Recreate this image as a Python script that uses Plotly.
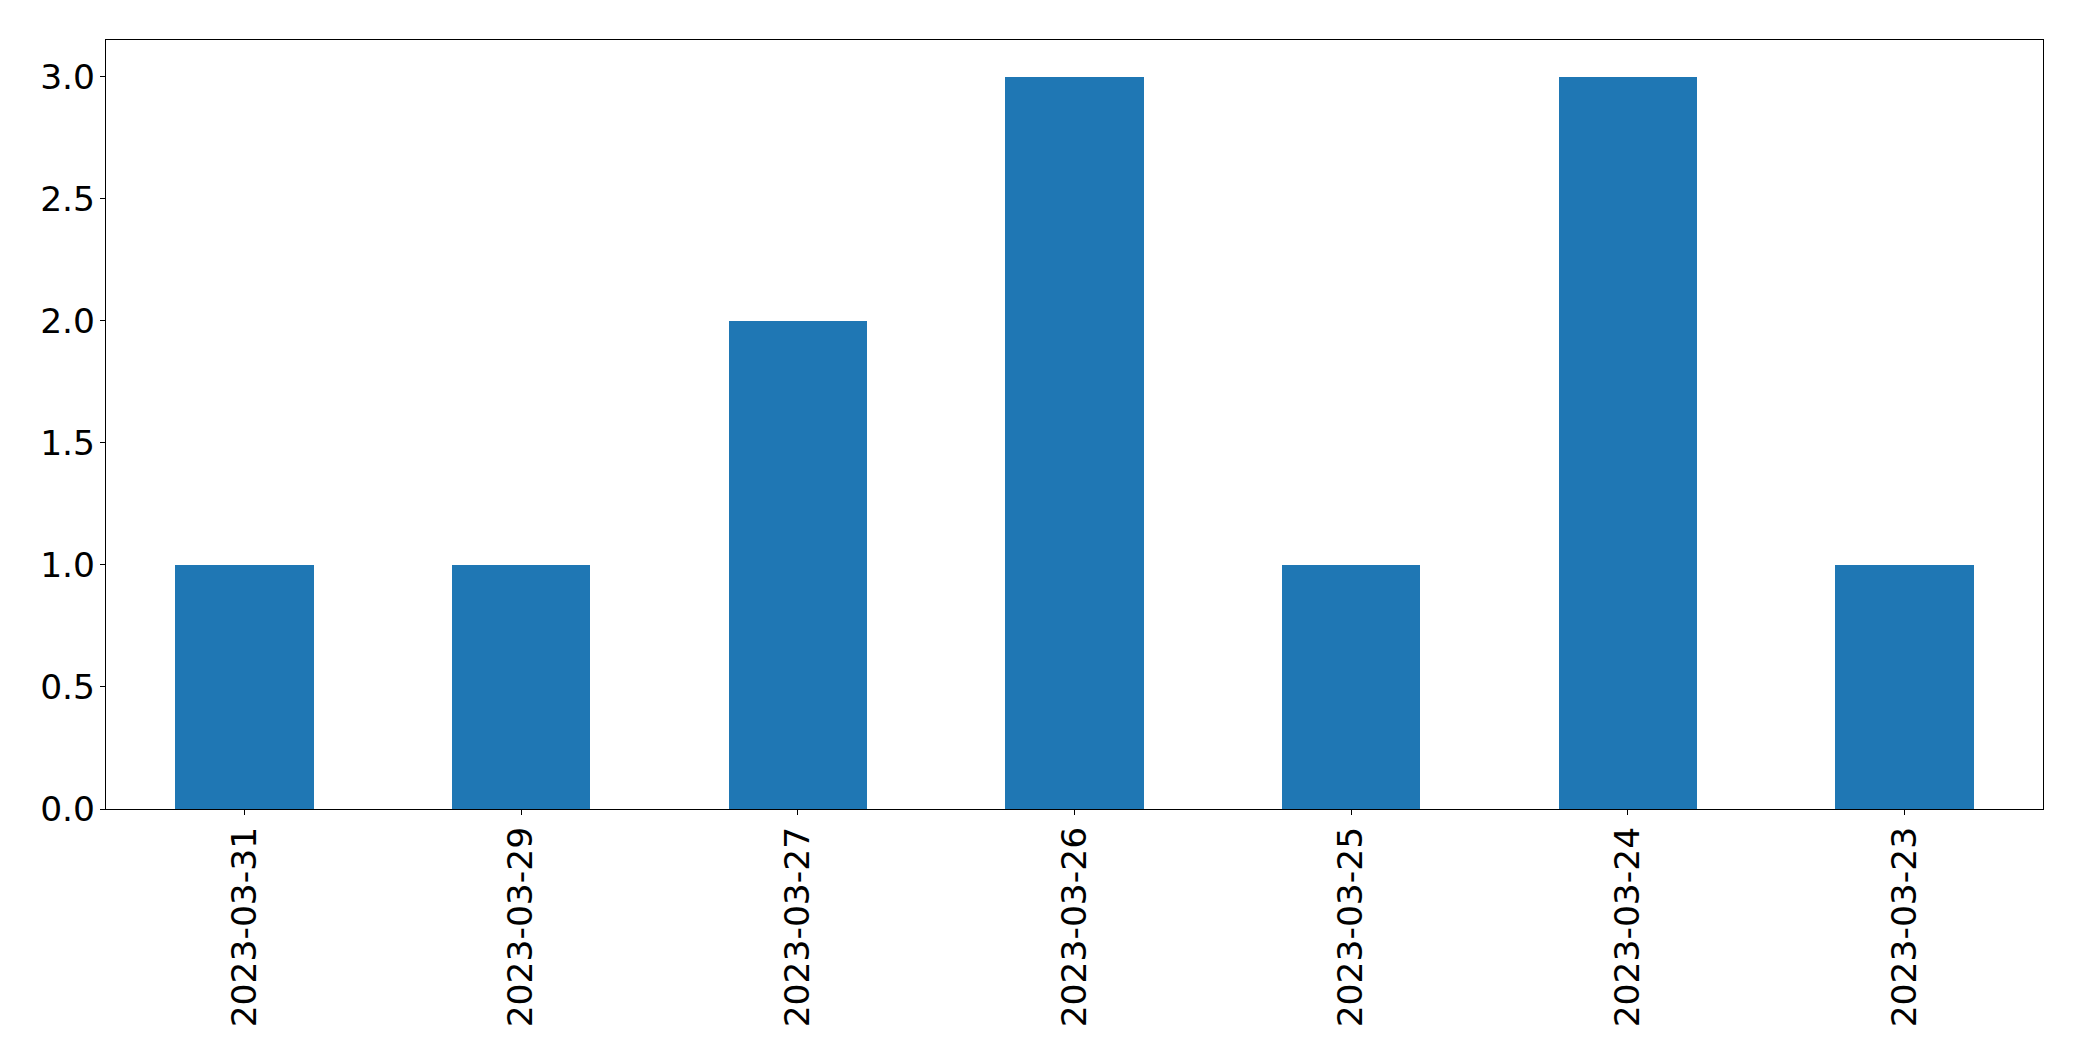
import plotly.graph_objects as go

dates = ["2023-03-31", "2023-03-29", "2023-03-27", "2023-03-26", "2023-03-25", "2023-03-24", "2023-03-23"]
counts = [1, 1, 2, 3, 1, 3, 1]
y_ticks = [0.0, 0.5, 1.0, 1.5, 2.0, 2.5, 3.0]

fig = go.Figure(go.Bar(x=dates, y=counts, marker=dict(color="#1f77b4", line=dict(width=0)), width=0.5))

fig.update_layout(
    width=2082, height=1061,
    margin=dict(l=97.5, r=47, t=31.5, b=259.5, autoexpand=False),
    paper_bgcolor="white", plot_bgcolor="white",
    font=dict(family="DejaVu Sans", size=34.5, color="black"),
    showlegend=False, bargap=0,
)
fig.update_xaxes(
    type="category", range=[-0.5, 6.5], tickangle=-90,
    showline=True, linecolor="black", linewidth=1.1, mirror=True,
    ticks="outside", ticklen=5, tickwidth=1.1, tickcolor="black",
    showgrid=False, zeroline=False, ticklabelstandoff=-2,
)
fig.update_yaxes(
    range=[0, 3.15], tickvals=y_ticks, ticktext=[f"{v:.1f}" for v in y_ticks],
    showline=True, linecolor="black", linewidth=1.1, mirror=True,
    ticks="outside", ticklen=5, tickwidth=1.1, tickcolor="black",
    showgrid=False, zeroline=False, ticklabelstandoff=-2,
)
fig.write_html("out.html")
